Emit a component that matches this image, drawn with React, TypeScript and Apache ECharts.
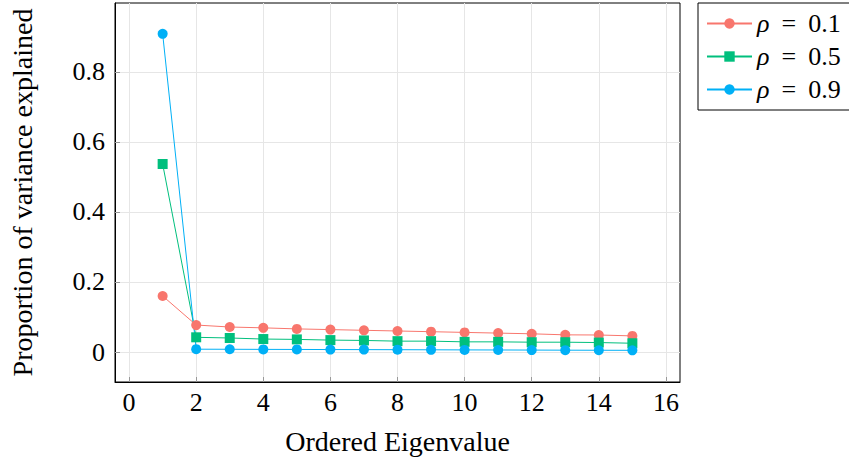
import React, { useEffect, useRef } from "react";
import * as echarts from "echarts";

const eigenIndex = [1, 2, 3, 4, 5, 6, 7, 8, 9, 10, 11, 12, 13, 14, 15];
const rho01 = [0.160, 0.077, 0.0714, 0.069, 0.066, 0.064, 0.062, 0.060, 0.058, 0.056, 0.054, 0.052, 0.049, 0.0486, 0.046];
const rho05 = [0.537, 0.042, 0.040, 0.037, 0.036, 0.034, 0.033, 0.031, 0.031, 0.029, 0.029, 0.028, 0.028, 0.027, 0.025];
const rho09 = [0.909, 0.008, 0.0078, 0.0075, 0.0073, 0.007, 0.0068, 0.0066, 0.0063, 0.006, 0.0058, 0.0055, 0.0052, 0.005, 0.0048];
const xTickValues = [0, 2, 4, 6, 8, 10, 12, 14, 16];
const yTickValues = [0, 0.2, 0.4, 0.6, 0.8];
const seriesNames = ["ρ = 0.1", "ρ = 0.5", "ρ = 0.9"];
const seriesColors = ["#F8766D", "#00BF7D", "#00B0F6"];
const seriesSymbols = ["circle", "rect", "circle"];
const xTitle = "Ordered Eigenvalue";
const yTitle = "Proportion of variance explained";

const FONT = "Liberation Serif";

export default function App() {
  const ref = useRef<HTMLDivElement>(null);
  useEffect(() => {
    if (!ref.current) return;
    const chart = echarts.init(ref.current, undefined, { renderer: "svg" });
    const all = [rho01, rho05, rho09];
    chart.setOption({
      animation: false,
      backgroundColor: "#ffffff",
      textStyle: { fontFamily: FONT },
      grid: {
        left: 112,
        top: 3,
        right: 169,
        bottom: 80,
        show: true,
        borderColor: "#000",
        borderWidth: 1,
        containLabel: false,
      },
      legend: {
        orient: "vertical",
        left: 698,
        top: 3,
        padding: [7, 12, 7, 8],
        itemWidth: 45,
        itemHeight: 13,
        itemGap: 6,
        borderColor: "#000",
        borderWidth: 1,
        backgroundColor: "#fff",
        data: seriesNames,
        formatter: (name: string) => `{r|ρ}{e|=}{n|${name.split("= ")[1]}}`,
        textStyle: {
          fontFamily: FONT,
          fontSize: 26,
          color: "#000",
          lineHeight: 27,
          rich: {
            r: { fontFamily: FONT, fontStyle: "italic", fontSize: 26, color: "#000" },
            e: { fontFamily: FONT, fontSize: 26, color: "#000", padding: [0, 12, 0, 12] },
            n: { fontFamily: FONT, fontSize: 26, color: "#000" },
          },
        },
      },
      xAxis: {
        type: "value",
        min: -0.42,
        max: 16.42,
        name: xTitle,
        nameLocation: "middle",
        nameGap: 45,
        nameTextStyle: { fontFamily: FONT, fontSize: 28, color: "#000" },
        axisLine: { show: true, onZero: false, lineStyle: { color: "#000", width: 1 } },
        axisTick: {
          show: true,
          inside: true,
          length: 5,
          customValues: xTickValues,
          lineStyle: { color: "#999" },
        },
        axisLabel: {
          customValues: xTickValues,
          margin: 7,
          fontFamily: FONT,
          fontSize: 26,
          color: "#000",
        },
        splitLine: { show: true, lineStyle: { color: "#e6e6e6", width: 1 } },
      },
      yAxis: {
        type: "value",
        min: -0.0857,
        max: 0.997,
        name: yTitle,
        nameLocation: "middle",
        nameGap: 79,
        nameTextStyle: { fontFamily: FONT, fontSize: 28, color: "#000" },
        axisLine: { show: true, onZero: false, lineStyle: { color: "#000", width: 1 } },
        axisTick: {
          show: true,
          inside: true,
          length: 5,
          customValues: yTickValues,
          lineStyle: { color: "#999" },
        },
        axisLabel: {
          customValues: yTickValues,
          margin: 10,
          fontFamily: FONT,
          fontSize: 26,
          color: "#000",
          formatter: (v: number) => String(Math.round(v * 10) / 10),
        },
        splitLine: { show: true, lineStyle: { color: "#e6e6e6", width: 1 } },
      },
      series: seriesNames.map((name, s) => ({
        name,
        type: "line",
        data: eigenIndex.map((x, i) => [x, all[s][i]]),
        symbol: seriesSymbols[s],
        symbolSize: 10,
        showAllSymbol: true,
        itemStyle: { color: seriesColors[s] },
        lineStyle: { color: seriesColors[s], width: 1 },
        emphasis: { disabled: true },
      })),
    });
    return () => chart.dispose();
  }, []);
  return (
    <div
      ref={ref}
      style={{ position: "fixed", left: 0, top: 0, width: 849, height: 462, background: "#fff" }}
    />
  );
}
